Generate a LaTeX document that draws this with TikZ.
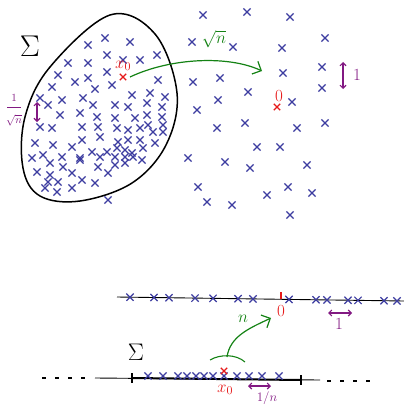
\documentclass[tikz,border=0pt]{standalone}
\usepackage{fix-cm}
\usepackage{tikz}
\usetikzlibrary{arrows.meta, positioning, calc, shapes.misc}

\definecolor{crossblue}{RGB}{60,60,160}
\definecolor{markred}{RGB}{230,25,25}
\definecolor{arrowgreen}{RGB}{20,130,20}
\definecolor{scalepurple}{RGB}{130,25,130}

\tikzset{
  xmark/.style={draw=crossblue, cross out, line width=1.2pt, minimum size=6pt, inner sep=0pt},
  redmark/.style={draw=markred, cross out, line width=1.4pt, minimum size=5pt, inner sep=0pt},
  lbl/.style={inner sep=1pt, font=\fontsize{17}{19}\selectfont},
  scalearrow/.style={draw=scalepurple, line width=1.1pt, {Straight Barb[length=3pt]}-{Straight Barb[length=3pt]}},
  maparrow/.style={draw=arrowgreen, line width=1.2pt, -{Straight Barb[length=7pt]}},
}

\begin{document}
\begin{tikzpicture}[x=1pt, y=-1pt]
    \useasboundingbox (0,0) rectangle (404,404);

    % Top: cloud of points around x_0
    \draw[line width=1.5pt] plot[smooth cycle, tension=0.6] coordinates {
      (110,15) (155,34) (177,93) (166,145) (132,183) (80,201) (40,196)
      (23,168) (25,117) (50,67)};
    \node[lbl, font=\fontsize{30}{32}\selectfont] (sigmaTop) at (30,46) {$\Sigma$};

    \foreach \p in {
      (88,45),(105,38),(130,42),(157,55),(68,63),(88,63),(107,55),(123,60),(140,60),
      (107,72),(58,75),(75,82),(88,78),(112,85),(158,80),(52,87),(95,89),
      (40,98),(62,100),(83,98),(132,95),(150,93),(165,97),(48,105),(93,105),(115,105),
      (128,107),(147,103),(162,107),(60,115),(80,113),(97,117),(115,118),(135,118),
      (147,115),(162,117),(40,127),(52,128),(82,127),(98,127),(117,128),(128,130),
      (140,128),(148,125),(153,132),(163,125),(163,132),(35,143),(53,145),(72,147),
      (82,140),(100,137),(118,142),(128,140),(140,140),(155,143),(43,155),(62,157),
      (80,158),(92,152),(107,152),(117,148),(125,150),(132,153),(143,148),(32,158),
      (50,163),(63,167),(80,160),(100,157),(115,157),(125,157),(133,157),(142,160),
      (37,172),(50,175),(72,173),(98,167),(115,165),(125,163),(48,182),(58,182),
      (82,180),(95,183),(108,173),(45,188),(57,192),(72,188),(108,200)}
      \node[xmark] at \p {};

    \foreach \p in {
      (203,15),(247,12),(290,17),(192,42),(233,47),(282,48),(325,38),(283,73),(322,67),
      (193,82),(220,78),(248,92),(322,88),(292,102),(197,110),(218,100),(245,123),
      (297,128),(325,123),(217,128),(257,147),(280,147),(188,158),(225,162),(250,168),
      (307,165),(198,187),(207,202),(232,205),(267,195),(288,187),(312,193),(290,215)}
      \node[xmark] at \p {};

    % Start and target points
    \node[redmark] (xzero) at (123,77) {};
    \node[lbl, text=markred] (xzeroLbl) at (123,66) {$x_0$};
    \node[redmark] (zero) at (277,107) {};
    \node[lbl, text=markred] (zeroLbl) at (279,96) {$0$};

    % Rescaling map
    \coordinate (mapEnd) at (262,71);
    \draw[maparrow] ($(xzero)+(7,0)$) .. controls (170,58) and (228,55) .. (mapEnd);
    \node[lbl, text=arrowgreen] (sqrtn) at (214,39) {$\sqrt{n}$};

    % Scales
    \coordinate (leftTop) at (37,102);
    \coordinate (leftBot) at (37,122);
    \draw[scalearrow] (leftTop) -- (leftBot);
    \node[lbl, text=scalepurple, font=\fontsize{11}{12}\selectfont, inner sep=0pt] (invSqrtnNum) at (14,98) {$1$};
    \node[lbl, text=scalepurple, font=\fontsize{11}{12}\selectfont, inner sep=0pt] (invSqrtnDen) at (14,120) {$\sqrt{n}$};
    \draw[scalepurple, line width=0.9pt] (7,107) -- (21,107);
    \coordinate (rightTop) at (343,62);
    \coordinate (rightBot) at (343,89);
    \draw[scalearrow] (rightTop) -- (rightBot);
    \node[lbl, text=scalepurple] (oneTop) at (357,75) {$1$};

    % Bottom: one-dimensional picture
    \coordinate (lineA) at (117,297);
    \coordinate (lineB) at (404,301);
    \draw[line width=0.9pt] (lineA) -- (lineB);
    \foreach \x in {130,154,169,195,213,238,253,289,316,327,348,358,384,397}
      \node[xmark] at (\x,{297+(\x-117)*0.014}) {};
    \draw[markred, line width=1.4pt] (281,292) -- (281,299);
    \node[lbl, text=markred] (zeroLine) at (281,311) {$0$};
    \coordinate (oneL) at (328,313);
    \coordinate (oneR) at (352,313);
    \draw[scalearrow] (oneL) -- (oneR);
    \node[lbl, text=scalepurple] (oneLine) at (339,324) {$1$};

    \coordinate (baseA) at (95,378);
    \coordinate (baseB) at (320,380);
    \coordinate (tickA) at (132,378);
    \coordinate (tickB) at (301,380);
    \draw[line width=0.9pt] (baseA) -- (baseB);
    \draw[line width=2pt] (tickA) -- (tickB);
    \draw[line width=1.3pt] ($(tickA)+(0,-5)$) -- ($(tickA)+(0,5)$);
    \draw[line width=1.3pt] ($(tickB)+(0,-5)$) -- ($(tickB)+(0,5)$);
    \draw[line width=1.1pt, dash pattern=on 4pt off 9pt] (42,378) -- (92,378);
    \draw[line width=1.1pt, dash pattern=on 4pt off 9pt] (327,381) -- (372,381);
    \node[lbl, font=\fontsize{24}{26}\selectfont] (sigmaBot) at (136,352) {$\Sigma$};

    \foreach \x in {148,163,178,187,196,204,213,224,237,249,262,279}
      \node[xmark] at (\x,376) {};
    \node[redmark] (xzeroBot) at (224,371) {};
    \node[lbl, text=markred] (xzeroBotLbl) at (225,390) {$x_0$};
    \coordinate (tinyL) at (248,386);
    \coordinate (tinyR) at (271,386);
    \draw[scalearrow] (tinyL) -- (tinyR);
    \node[lbl, text=scalepurple, font=\fontsize{13}{14}\selectfont] (invN) at (267,398) {$1/n$};

    % Zoom-out map
    \coordinate (capL) at (210,360);
    \coordinate (capR) at (245,362);
    \coordinate (capTop) at (227,357);
    \coordinate (zoomEnd) at (271,318);
    \draw[arrowgreen, line width=1.1pt] (capL) .. controls (220,354) and (236,354) .. (capR);
    \draw[maparrow] (capTop) .. controls (230,336) and (250,328) .. (zoomEnd);
    \node[lbl, text=arrowgreen] (nLbl) at (243,319) {$n$};
\end{tikzpicture}
\end{document}
